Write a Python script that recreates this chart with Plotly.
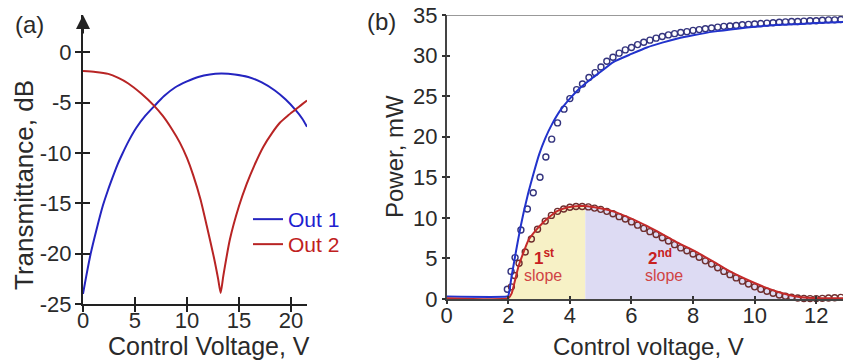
import plotly.graph_objects as go

# ---------------- Panel (a): transmittance vs control voltage ----------------
a_out1_v = [0, 0.3, 0.74, 1.28, 1.92, 2.4, 2.82, 3.3, 3.78, 4.4, 5.13, 6.0, 6.9, 7.8, 8.85, 10.0,
            11.09, 12.2, 13.3, 14.6, 15.9, 17.2, 18.46, 19.5, 20.5, 21.1, 21.55]
a_out1_db = [-24.0, -22.3, -20.0, -17.7, -15.2, -13.7, -12.5, -11.2, -10.1, -8.8, -7.5, -6.3, -5.3, -4.35, -3.5, -2.9,
             -2.45, -2.2, -2.12, -2.2, -2.45, -3.0, -3.8, -4.7, -5.8, -6.6, -7.4]

a_out2_v = [0, 1.2, 2.43, 3.4, 4.36, 5.6, 6.83, 7.7, 8.53, 9.33, 10.0, 10.6, 11.3, 11.9, 12.6, 13.0, 13.24,
            13.5, 14.13, 15.0, 15.74, 16.5, 17.34, 18.2, 18.94, 19.7, 20.5, 21.1, 21.55]
a_out2_db = [-1.86, -1.95, -2.15, -2.55, -3.1, -4.1, -5.3, -6.35, -7.6, -9.0, -10.5, -12.2, -14.6, -17.2, -20.4, -22.5, -23.9,
             -22.2, -18.6, -15.3, -13.1, -11.2, -9.4, -8.0, -7.0, -6.3, -5.65, -5.15, -4.8]

a_xticks = [0, 5, 10, 15, 20]
a_yticks = [0, -5, -10, -15, -20, -25]
a_yticktext = ["0", "-5", "-10", "-15", "-20", "-25"]

# ---------------- Panel (b): power vs control voltage ----------------
b_out1_line_v = [0, 1.95, 2.0, 2.1, 2.2, 2.3, 2.4, 2.5, 2.65, 2.8, 3.0, 3.2, 3.4, 3.7, 4.0, 4.33, 4.75, 5.0,
                 5.41, 6.0, 6.5, 7.0, 7.5, 8.0, 8.66, 9.5, 10.0, 10.82, 11.5, 12.0, 12.87]
b_out1_line_p = [0.3, 0.3, 0.4, 2.6, 4.8, 6.9, 8.9, 10.7, 13.1, 15.2, 17.8, 19.8, 21.4, 23.3, 24.7, 26.0, 27.3, 28.0,
                 29.2, 30.2, 31.0, 31.6, 32.1, 32.5, 32.95, 33.35, 33.55, 33.8, 33.9, 34.0, 34.15]

b_out1_pts_v = [1.97, 2.09, 2.22, 2.41, 2.62, 2.81, 3.03, 3.22, 3.41, 3.6, 3.81, 4.0, 4.22, 4.41, 4.62, 4.82,
                5.01, 5.2, 5.4, 5.6, 5.8, 6.0, 6.2, 6.4, 6.6, 6.8, 7.0, 7.2, 7.4, 7.6, 7.8, 8.0, 8.2, 8.4,
                8.6, 8.8, 9.0, 9.2, 9.4, 9.6, 9.8, 10.0, 10.2, 10.4, 10.6, 10.8, 11.0, 11.2, 11.4, 11.6,
                11.8, 12.0, 12.2, 12.4, 12.6, 12.8]
b_out1_pts_p = [1.2, 3.4, 5.1, 8.5, 11.1, 13.1, 15.0, 17.5, 19.7, 21.7, 23.4, 24.7, 25.8, 26.5, 27.3, 27.9,
                28.6, 29.3, 29.8, 30.3, 30.7, 31.0, 31.35, 31.65, 31.9, 32.15, 32.35, 32.55, 32.7, 32.85,
                32.95, 33.1, 33.2, 33.3, 33.4, 33.5, 33.6, 33.65, 33.7, 33.8, 33.85, 33.9, 33.95, 34.0,
                34.05, 34.1, 34.15, 34.2, 34.2, 34.25, 34.3, 34.3, 34.35, 34.4, 34.4, 34.45]

b_out2_line_v = [0, 2.0, 2.11, 2.2, 2.33, 2.5, 2.66, 2.9, 3.1, 3.3, 3.57, 3.8, 4.1, 4.33, 4.5, 4.8, 5.4,
                 6.0, 6.5, 7.0, 7.5, 8.1, 8.66, 9.2, 9.74, 10.3, 10.82, 11.3, 11.7, 12.2, 12.87]
b_out2_line_p = [0.1, 0.1, 0.7, 2.0, 4.0, 5.8, 7.3, 8.5, 9.3, 10.0, 10.8, 11.15, 11.4, 11.45, 11.45, 11.3, 10.8,
                 9.9, 9.0, 8.0, 6.95, 5.8, 4.6, 3.4, 2.4, 1.5, 0.8, 0.35, 0.15, 0.1, 0.1]

b_out2_pts_v = [2.1, 2.2, 2.35, 2.55, 2.75, 2.95, 3.2, 3.4, 3.6, 3.8, 4.0, 4.2, 4.4, 4.6, 4.8, 5.0, 5.2,
                5.4, 5.6, 5.8, 6.0, 6.2, 6.4, 6.6, 6.8, 7.0, 7.2, 7.4, 7.6, 7.8, 8.0, 8.2, 8.4, 8.6, 8.8,
                9.0, 9.2, 9.4, 9.6, 9.8, 10.0, 10.2, 10.4, 10.6, 10.8, 11.0, 11.2, 11.4, 11.6, 11.8, 12.0,
                12.2, 12.4, 12.6, 12.8]
b_out2_pts_p = [1.5, 2.9, 4.4, 5.8, 7.4, 8.6, 9.6, 10.3, 10.8, 11.1, 11.3, 11.4, 11.4, 11.35, 11.2, 11.05,
                10.8, 10.5, 10.15, 9.85, 9.5, 9.1, 8.7, 8.3, 7.95, 7.55, 7.15, 6.7, 6.3, 5.95, 5.55, 5.15,
                4.7, 4.3, 3.85, 3.4, 3.0, 2.6, 2.2, 1.85, 1.5, 1.2, 0.95, 0.7, 0.5, 0.35, 0.22, 0.12, 0.06,
                0.05, 0.05, 0.08, 0.12, 0.15, 0.2]

slope_split_v = 4.5
b_xticks = [0, 2, 4, 6, 8, 10, 12]
b_yticks = [0, 5, 10, 15, 20, 25, 30, 35]

# ---------------- styling ----------------
FONT = "Liberation Sans, Arial, sans-serif"
TXT = "#2a2a2a"
W, H = 843, 362

def px_x(p):
    return p / W

def px_y(p):
    return 1 - p / H

ax_dom = [px_x(83), px_x(307)]
ay_dom = [px_y(304), px_y(15)]
bx_dom = [px_x(446.7), 1.0]
by_dom = [px_y(299), px_y(15)]
a_xrange = [0, 21.55]
a_yrange = [-25, 3.7]
b_xrange = [0, 12.87]
b_yrange = [0, 35]

fig = go.Figure()

# Panel (a) curves
fig.add_trace(go.Scatter(x=a_out1_v, y=a_out1_db, mode="lines", line=dict(color="#2424c0", width=2, shape="spline", smoothing=0.6),
                         name="<span style='color:#2020d0'>Out 1</span>", xaxis="x", yaxis="y", legend="legend"))
fig.add_trace(go.Scatter(x=a_out2_v, y=a_out2_db, mode="lines", line=dict(color="#b82424", width=2, shape="spline", smoothing=0.6),
                         name="<span style='color:#c02020'>Out 2</span>", xaxis="x", yaxis="y", legend="legend2"))

# Panel (b) fills under red curve
first_v = [v for v in b_out2_line_v if 2.0 <= v <= slope_split_v]
first_p = [p for v, p in zip(b_out2_line_v, b_out2_line_p) if 2.0 <= v <= slope_split_v]
second_v = [v for v in b_out2_line_v if slope_split_v <= v <= 12.2]
second_p = [p for v, p in zip(b_out2_line_v, b_out2_line_p) if slope_split_v <= v <= 12.2]
fig.add_trace(go.Scatter(x=first_v, y=first_p, mode="lines", line=dict(width=0, shape="spline", smoothing=0.5), fill="tozeroy",
                         fillcolor="#f7f1c6", showlegend=False, xaxis="x2", yaxis="y2", hoverinfo="skip"))
fig.add_trace(go.Scatter(x=second_v, y=second_p, mode="lines", line=dict(width=0, shape="spline", smoothing=0.5), fill="tozeroy",
                         fillcolor="#dddbf3", showlegend=False, xaxis="x2", yaxis="y2", hoverinfo="skip"))

# Panel (b) measured points and fits
fig.add_trace(go.Scatter(x=b_out1_pts_v, y=b_out1_pts_p, mode="markers",
                         marker=dict(symbol="circle-open", size=6, color="#34347e", line=dict(width=1.4)),
                         showlegend=False, xaxis="x2", yaxis="y2", cliponaxis=False))
fig.add_trace(go.Scatter(x=b_out2_pts_v, y=b_out2_pts_p, mode="markers",
                         marker=dict(symbol="circle-open", size=6, color="#6e2e2e", line=dict(width=1.4)),
                         showlegend=False, xaxis="x2", yaxis="y2", cliponaxis=False))
fig.add_trace(go.Scatter(x=b_out1_line_v, y=b_out1_line_p, mode="lines", line=dict(color="#2233cc", width=2, shape="spline", smoothing=0.5),
                         showlegend=False, xaxis="x2", yaxis="y2"))
fig.add_trace(go.Scatter(x=b_out2_line_v, y=b_out2_line_p, mode="lines", line=dict(color="#c42a2a", width=2, shape="spline", smoothing=0.5),
                         showlegend=False, xaxis="x2", yaxis="y2"))

# empty traces so the tick overlay axes exist (inside / outside tick halves)
for xa, ya in [("x3", "y3"), ("x4", "y4"), ("x5", "y5"), ("x6", "y6")]:
    fig.add_trace(go.Scatter(x=[], y=[], xaxis=xa, yaxis=ya, showlegend=False))

tickfont = dict(family=FONT, size=22, color=TXT)
common = dict(showgrid=False, zeroline=False, automargin=False)

def tick_overlay(dom, rng, anchor, over, vals, side, length, width, color):
    return dict(domain=dom, range=rng, anchor=anchor, overlaying=over, tickvals=vals, ticks=side, ticklen=length,
                tickwidth=width, tickcolor=color, showticklabels=False, showline=False, **common)

fig.update_layout(
    width=W, height=H, margin=dict(l=0, r=0, t=0, b=0),
    paper_bgcolor="white", plot_bgcolor="rgba(0,0,0,0)",
    font=dict(family=FONT, color=TXT),
    xaxis=dict(domain=ax_dom, range=a_xrange, anchor="y", tickvals=a_xticks, ticks="",
               showline=True, linecolor="#222", linewidth=2, tickfont=tickfont, ticklabelstandoff=-4, **common),
    yaxis=dict(domain=ay_dom, range=a_yrange, anchor="x", tickvals=a_yticks, ticktext=a_yticktext, ticks="",
               showline=True, linecolor="#222", linewidth=2, tickfont=tickfont, ticklabelstandoff=5, **common),
    xaxis3=tick_overlay(ax_dom, a_xrange, "y3", "x", a_xticks, "inside", 7, 2, "#222"),
    yaxis3=tick_overlay(ay_dom, a_yrange, "x3", "y", a_yticks, "inside", 7, 2, "#222"),
    xaxis5=tick_overlay(ax_dom, a_xrange, "y5", "x", a_xticks, "outside", 7, 2, "#222"),
    yaxis5=tick_overlay(ay_dom, a_yrange, "x5", "y", a_yticks, "outside", 7, 2, "#222"),
    xaxis2=dict(domain=bx_dom, range=b_xrange, anchor="y2", tickvals=b_xticks, ticks="",
                showline=True, linecolor="#444", linewidth=1.5, tickfont=tickfont, ticklabelstandoff=-4, **common),
    yaxis2=dict(domain=by_dom, range=b_yrange, anchor="x2", tickvals=b_yticks, ticks="",
                showline=True, linecolor="#444", linewidth=1.5, tickfont=tickfont, ticklabelstandoff=3, **common),
    xaxis4=tick_overlay(bx_dom, b_xrange, "y4", "x2", b_xticks, "inside", 3, 1.5, "#333"),
    yaxis4=tick_overlay(by_dom, b_yrange, "x4", "y2", b_yticks, "inside", 3, 1.5, "#333"),
    xaxis6=tick_overlay(bx_dom, b_xrange, "y6", "x2", b_xticks, "outside", 4, 1.5, "#333"),
    yaxis6=tick_overlay(by_dom, b_yrange, "x6", "y2", b_yticks, "outside", 4, 1.5, "#333"),
    legend=dict(x=px_x(248), y=px_y(199), xanchor="left", yanchor="top", bgcolor="rgba(0,0,0,0)",
                font=dict(family=FONT, size=21), itemwidth=30),
    legend2=dict(x=px_x(248), y=px_y(224), xanchor="left", yanchor="top", bgcolor="rgba(0,0,0,0)",
                 font=dict(family=FONT, size=21), itemwidth=30),
    showlegend=True,
)

# top frame line of panel (b)
fig.add_shape(type="line", xref="x2 domain", yref="y2", x0=0, x1=1, y0=b_yrange[1], y1=b_yrange[1],
              line=dict(color="#777", width=1.5))

C = dict(xanchor="center", yanchor="middle", showarrow=False)
ann = []
# arrow on the y axis of panel (a)
ann.append(dict(x=0, y=a_yrange[1], xref="x", yref="y", ax=0, ay=20, axref="pixel", ayref="pixel", text="",
                showarrow=True, arrowhead=2, arrowsize=1.4, arrowwidth=2, arrowcolor="#222"))
# panel labels
ann.append(dict(x=px_x(29), y=px_y(25), xref="paper", yref="paper", text="(a)",
                font=dict(family=FONT, size=24, color=TXT), **C))
ann.append(dict(x=px_x(381), y=px_y(21), xref="paper", yref="paper", text="(b)",
                font=dict(family=FONT, size=24, color=TXT), **C))
# axis titles
ann.append(dict(x=px_x(209), y=px_y(346), xref="paper", yref="paper", text="Control Voltage, V",
                font=dict(family=FONT, size=25, color=TXT), **C))
ann.append(dict(x=px_x(24), y=px_y(185), xref="paper", yref="paper", text="Transmittance, dB",
                textangle=-90, font=dict(family=FONT, size=26, color=TXT), **C))
ann.append(dict(x=px_x(648), y=px_y(346), xref="paper", yref="paper", text="Control voltage, V",
                font=dict(family=FONT, size=24, color=TXT), **C))
ann.append(dict(x=px_x(395), y=px_y(157), xref="paper", yref="paper", text="Power, mW",
                textangle=-90, font=dict(family=FONT, size=24, color=TXT), **C))
# slope labels
ann.append(dict(x=3.17, y=5.2, xref="x2", yref="y2", text="<b>1<sup>st</sup></b>",
                font=dict(family=FONT, size=17, color="#c82020"), **C))
ann.append(dict(x=3.14, y=2.95, xref="x2", yref="y2", text="slope",
                font=dict(family=FONT, size=16, color="#d04444"), **C))
ann.append(dict(x=6.93, y=5.2, xref="x2", yref="y2", text="<b>2<sup>nd</sup></b>",
                font=dict(family=FONT, size=17, color="#c82020"), **C))
ann.append(dict(x=7.06, y=2.95, xref="x2", yref="y2", text="slope",
                font=dict(family=FONT, size=16, color="#d04444"), **C))
fig.update_layout(annotations=ann)

fig.write_html("out.html", post_script="document.body.style.margin='0px';",
               config={"displayModeBar": False})
